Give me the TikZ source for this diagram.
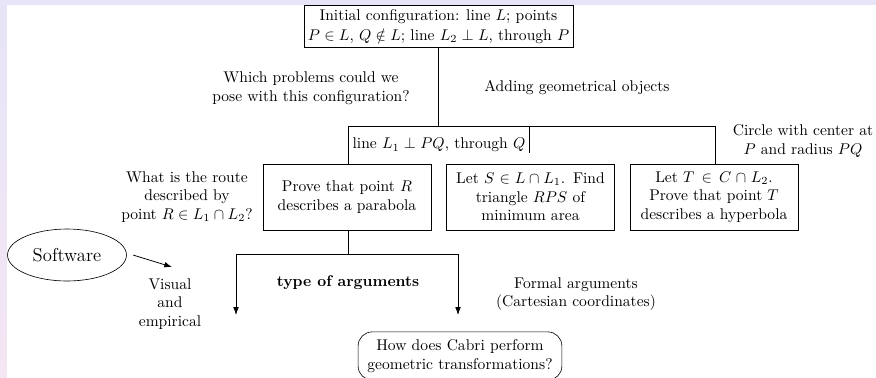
\documentclass[tikz,border=0pt]{standalone}
\usetikzlibrary{arrows.meta,shapes.geometric}
\definecolor{bgtop}{RGB}{231,228,248}
\definecolor{bgpink}{RGB}{244,230,243}
\tikzset{
  box/.style={draw, align=center, text width=102pt, minimum height=42.4pt, inner sep=3pt},
  lbl/.style={align=center, inner sep=0pt},
  conn/.style={line width=0.5pt},
  arr/.style={line width=0.5pt, -{Latex[length=5pt,width=3.6pt]}},
}
\begin{document}
\begin{tikzpicture}[x=0.643pt,y=-0.643pt]
\useasboundingbox (0,0) rectangle (876,377);
% background
\fill[bgtop] (0,0) rectangle (876,377);
\shade[top color=bgtop, bottom color=bgpink] (0,5) rectangle (7,377);
\fill[white] (7,5) rectangle (873,377);
\fill[white!90!bgtop] (873,5) rectangle (876,377);
% nodes
\node[draw, align=center, inner sep=2.5pt, anchor=north] (top) at (438.5,5)
  {Initial configuration: line $L$; points\\[1pt] $P\in L$, $Q\notin L$; line $L_2\perp L$, through $P$};
\coordinate (j0) at (438.5,126);
\coordinate (jl) at (348,126);
\coordinate (jm) at (529,126);
\coordinate (jr) at (715,126);
\coordinate (jme) at (529,153);
\node[lbl] (q1) at (311,88) {Which problems could we\\ pose with this configuration?};
\node[lbl] (q2) at (577,88) {Adding geometrical objects};
\node[lbl] (l1) at (439,145) {line $L_1\perp PQ$, through $Q$};
\node[lbl] (circ) at (803,141) {Circle with center at\\ $P$ and radius $PQ$};
\node[box] (b1) at (347,197) {Prove that point $R$\\ describes a parabola};
\node[box] (b2) at (530.5,197) {Let $S\in L\cap L_1$. Find\\ triangle $RPS$ of\\ minimum area};
\node[box] (b3) at (714,197) {Let $T\in C\cap L_2$.\\ Prove that point $T$\\ describes a hyperbola};
\node[lbl] (route) at (187,197) {What is the route\\ described by\\ point $R\in L_1\cap L_2$?};
\node[draw, ellipse, minimum width=76.5pt, minimum height=33.4pt, inner sep=0pt] (soft) at (67,255) {\large Software};
\node[lbl] (vis) at (170,304) {Visual\\ and\\ empirical};
\node[lbl] (type) at (348,283) {\textbf{type of arguments}};
\node[lbl] (formal) at (576,294) {Formal arguments\\ (Cartesian coordinates)};
\node[draw, rounded corners=9pt, align=center, inner sep=3pt, minimum width=131pt, minimum height=31pt] (cabri) at (460,356)
  {How does Cabri perform\\ geometric transformations?};
\coordinate (k0) at (348,254);
\coordinate (kl) at (236,254);
\coordinate (kr) at (458,254);
\coordinate (al) at (236,315);
\coordinate (ar) at (458,315);
\coordinate (ss) at (133,255);
\coordinate (sa) at (172,267);
% connectors
\draw[conn] (top.south) -- (j0);
\draw[conn] (jl) -- (jr);
\draw[conn] (jl) -- (b1.north -| jl);
\draw[conn] (jm) -- (jme);
\draw[conn] (jr) -- (b3.north -| jr);
\draw[conn] (b1.south -| k0) -- (k0);
\draw[conn] (kl) -- (kr);
\draw[arr] (kl) -- (al);
\draw[arr] (kr) -- (ar);
\draw[arr] (ss) -- (sa);
\end{tikzpicture}
\end{document}
